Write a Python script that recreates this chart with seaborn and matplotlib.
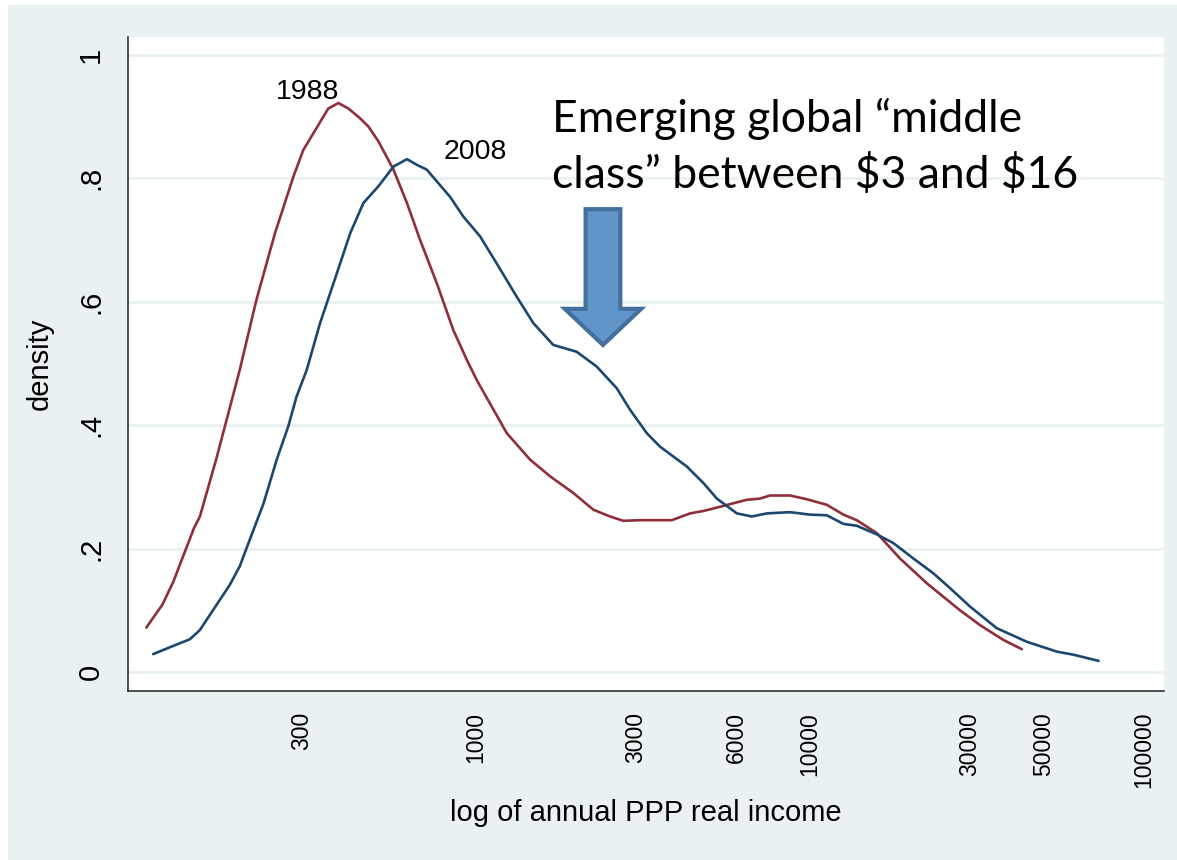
import matplotlib
matplotlib.use("Agg")
import matplotlib.pyplot as plt
from matplotlib.patches import Rectangle
import seaborn as sns

# densidad del ingreso global (kdensity)
income_1988 = [103, 115, 124, 143, 149, 167, 179, 196, 220, 250, 284, 304, 330, 361,
               387, 415, 450, 476, 510, 566, 621, 680, 763, 855, 938, 1005, 1101, 1236,
               1452, 1667, 1956, 2245, 2518, 2761, 3098, 3855, 4375, 4798, 5142, 5760,
               6460, 7080, 7590, 8710, 9770, 11220, 12590, 13800, 15850, 18590, 22340,
               25060, 28120, 32280, 37910, 43050]
density_1988 = [0.072, 0.109, 0.146, 0.233, 0.252, 0.346, 0.408, 0.489, 0.603, 0.711,
                0.803, 0.846, 0.878, 0.913, 0.922, 0.913, 0.897, 0.884, 0.860, 0.814,
                0.760, 0.700, 0.630, 0.554, 0.506, 0.473, 0.435, 0.387, 0.344, 0.317,
                0.290, 0.263, 0.252, 0.245, 0.246, 0.246, 0.257, 0.261, 0.265, 0.272,
                0.279, 0.281, 0.286, 0.286, 0.280, 0.271, 0.255, 0.246, 0.225, 0.184,
                0.144, 0.122, 0.100, 0.076, 0.052, 0.037]

income_2008 = [108, 121, 139, 149, 163, 183, 196, 210, 231, 253, 274, 290, 311, 341,
               383, 420, 460, 510, 566, 621, 664, 712, 780, 836, 916, 1028, 1153, 1324,
               1486, 1703, 2000, 2297, 2636, 2891, 3245, 3558, 4276, 4798, 5261, 6038,
               6697, 7430, 8710, 10000, 11220, 12590, 13800, 15850, 17750, 20380, 23390,
               26240, 30130, 36220, 44570, 54830, 61520, 73110]
density_2008 = [0.029, 0.040, 0.053, 0.068, 0.100, 0.141, 0.171, 0.214, 0.273, 0.344,
                0.398, 0.446, 0.489, 0.565, 0.646, 0.711, 0.760, 0.787, 0.819, 0.831,
                0.822, 0.814, 0.789, 0.770, 0.738, 0.706, 0.662, 0.608, 0.565, 0.530,
                0.519, 0.495, 0.460, 0.425, 0.387, 0.365, 0.333, 0.306, 0.281, 0.257,
                0.252, 0.257, 0.259, 0.255, 0.254, 0.240, 0.237, 0.223, 0.209, 0.184,
                0.160, 0.136, 0.106, 0.071, 0.049, 0.033, 0.028, 0.018]

x_ticks = [300, 1000, 3000, 6000, 10000, 30000, 50000, 100000]
y_ticks = [0, 0.2, 0.4, 0.6, 0.8, 1.0]
y_ticklabels = ["0", ".2", ".4", ".6", ".8", "1"]

sns.set_theme(style="white")
plt.rcParams["font.family"] = ["Liberation Sans", "DejaVu Sans"]
plt.rcParams["text.color"] = "black"
plt.rcParams["axes.labelcolor"] = "black"
plt.rcParams["xtick.color"] = "black"
plt.rcParams["ytick.color"] = "black"

bg = "#EAF1F3"
red = "#8E2F3A"
navy = "#1C476F"

fig = plt.figure(figsize=(11.77, 8.6), dpi=100)
fig.patch.set_facecolor("white")
fig.add_artist(Rectangle((8 / 1177, 0), 1 - 8 / 1177, 855 / 860,
                         transform=fig.transFigure, color=bg, zorder=-1))

ax = fig.add_axes([0.1088, 0.1965, 0.8802, 0.7605])
ax.set_facecolor("white")

sns.lineplot(x=income_1988, y=density_1988, color=red, lw=1.9, estimator=None,
             solid_joinstyle="round", ax=ax)
sns.lineplot(x=income_2008, y=density_2008, color=navy, lw=1.9, estimator=None,
             solid_joinstyle="round", ax=ax)

ax.set_xscale("log")
ax.set_xlim(90.8, 114800)
ax.set_ylim(-0.0308, 1.029)
ax.set_xticks(x_ticks, [str(t) for t in x_ticks], rotation=90)
ax.xaxis.set_minor_locator(matplotlib.ticker.NullLocator())
ax.set_yticks(y_ticks, y_ticklabels)
for lab in ax.get_yticklabels():
    lab.set_rotation(90)
    lab.set_va("center")

ax.tick_params(axis="x", length=8.6, width=1.1, color="#222222", labelsize=16.5, pad=6.5)
ax.tick_params(axis="y", length=8.6, width=1.1, color="#222222", labelsize=21, pad=8)
ax.yaxis.grid(True, color=bg, lw=2.2)
ax.set_axisbelow(True)

for s in ["top", "right"]:
    ax.spines[s].set_visible(False)
for s in ["left", "bottom"]:
    ax.spines[s].set_color("#222222")
    ax.spines[s].set_linewidth(1.1)

ax.set_xlabel("log of annual PPP real income", fontsize=21, va="center")
ax.set_ylabel("density", fontsize=21, va="center")
ax.xaxis.set_label_coords(0.5, -0.1865)
ax.yaxis.set_label_coords(-0.0849, 0.5)

ax.text(314, 0.929, "1988", ha="center", va="baseline", fontsize=20.5)
ax.text(994, 0.831, "2008", ha="center", va="baseline", fontsize=20.5)

# flecha y texto de la "clase media"
ax.annotate("", xy=(2399, 0.530), xytext=(2399, 0.750),
            arrowprops=dict(arrowstyle="simple,head_length=26,head_width=55,tail_width=25",
                            mutation_scale=1, shrinkA=0, shrinkB=0,
                            fc="#6194C9", ec="#43709D", lw=3, joinstyle="miter"))

fig.text(552 / 1177, (860 - 132) / 860, "Emerging global \u201cmiddle",
         fontfamily=["Lato", "DejaVu Sans"], fontsize=32, va="baseline")
fig.text(552 / 1177, (860 - 188) / 860, "class\u201d between \\$3 and \\$16",
         fontfamily=["Lato", "DejaVu Sans"], fontsize=32, va="baseline")

fig.savefig("out.png", dpi=100)
